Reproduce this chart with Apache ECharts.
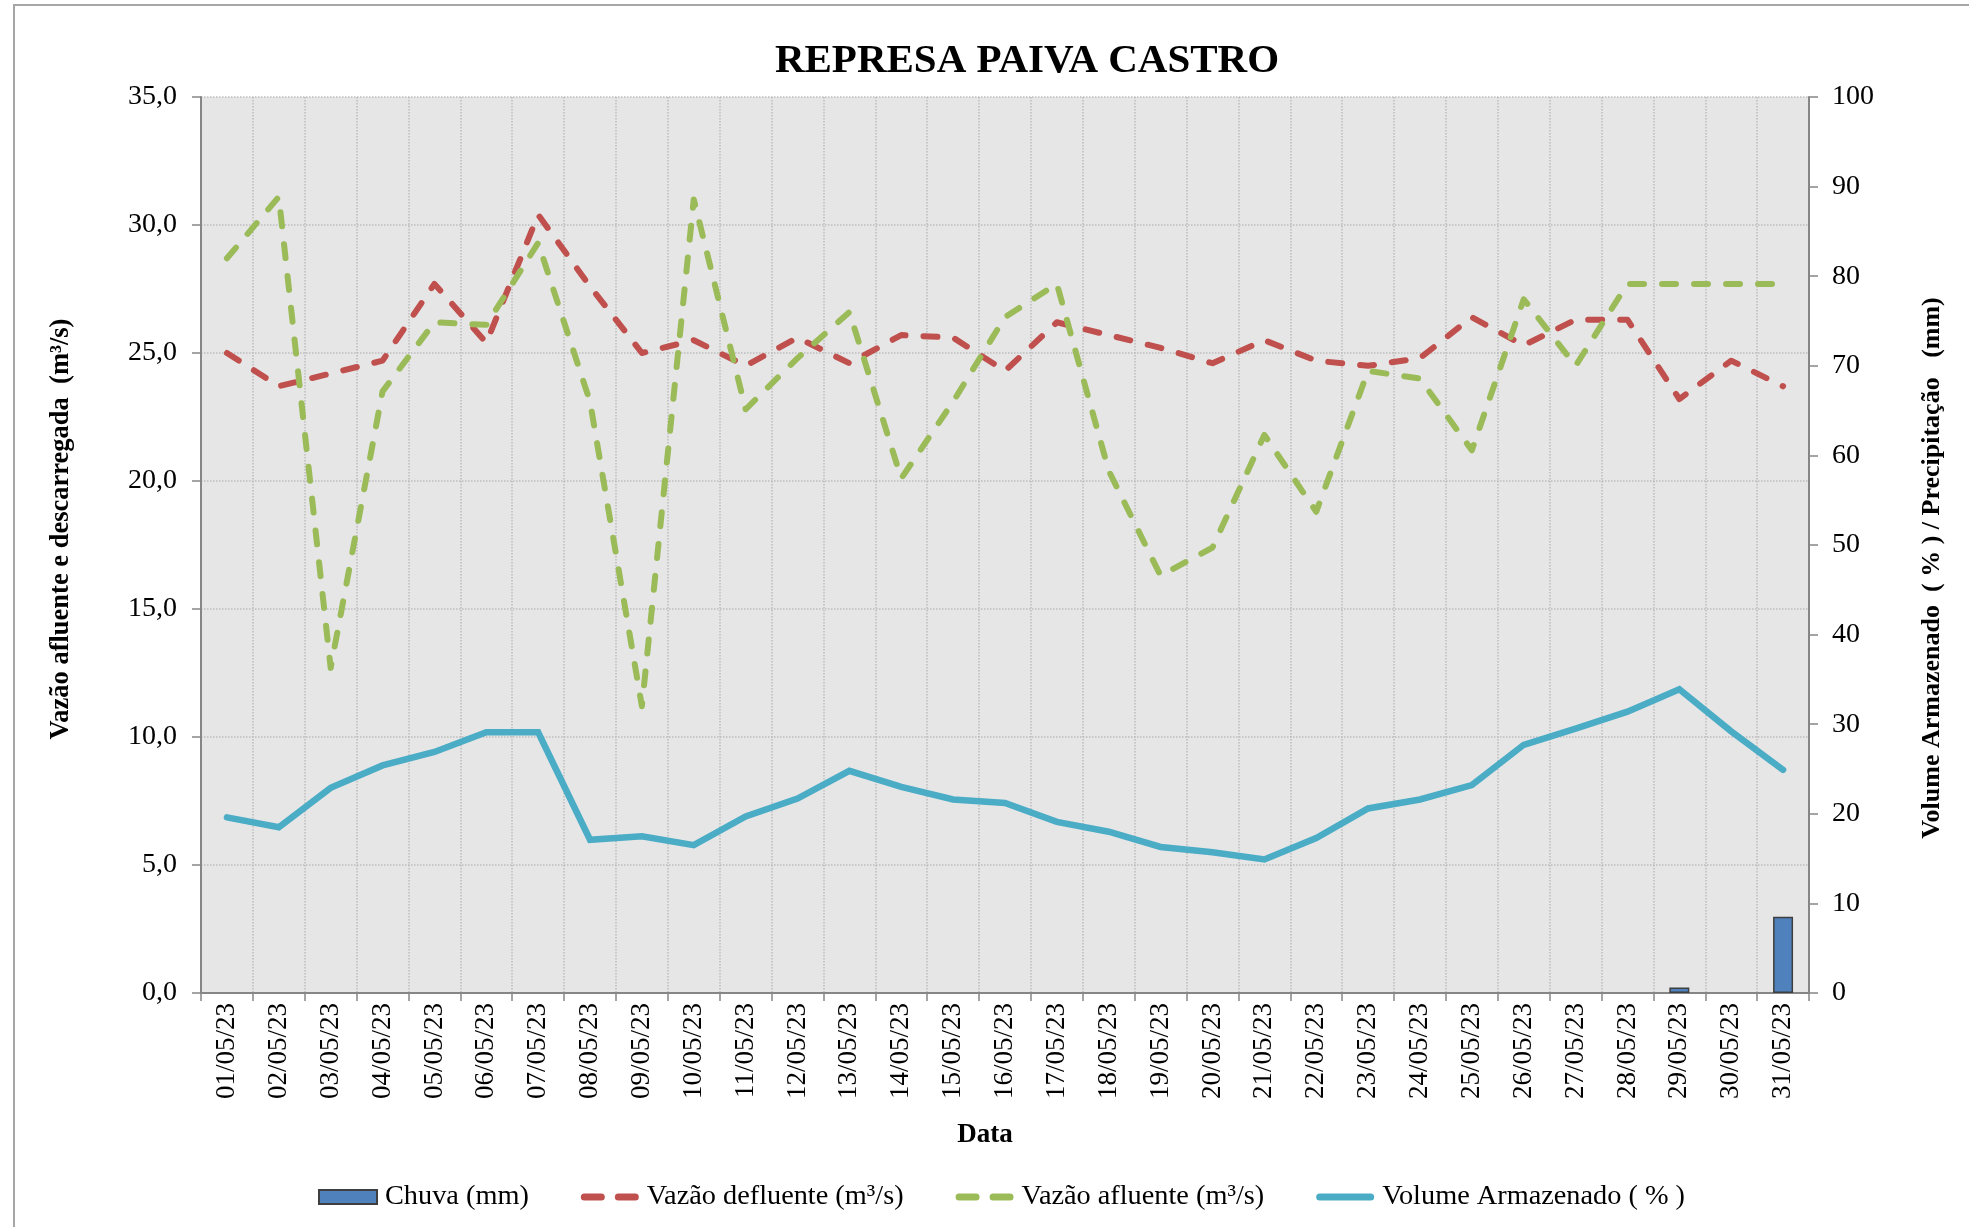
<!DOCTYPE html>
<html>
<head>
<meta charset="utf-8">
<script src="https://cdn.jsdelivr.net/npm/echarts@6/dist/echarts.min.js"></script>
<style>
  html, body { margin: 0; padding: 0; background: #fff; }
  #chart { width: 1969px; height: 1227px; }
</style>
</head>
<body>
<div id="chart"></div>
<script>
// dias do mês (eixo x)
var dias = ["01/05/23", "02/05/23", "03/05/23", "04/05/23", "05/05/23", "06/05/23", "07/05/23", "08/05/23",
  "09/05/23", "10/05/23", "11/05/23", "12/05/23", "13/05/23", "14/05/23", "15/05/23", "16/05/23",
  "17/05/23", "18/05/23", "19/05/23", "20/05/23", "21/05/23", "22/05/23", "23/05/23", "24/05/23",
  "25/05/23", "26/05/23", "27/05/23", "28/05/23", "29/05/23", "30/05/23", "31/05/23"];

// precipitação (mm) - eixo direito
var chuva = [0, 0, 0, 0, 0, 0, 0, 0, 0, 0, 0, 0, 0, 0, 0, 0,
  0, 0, 0, 0, 0, 0, 0, 0, 0, 0, 0, 0, 0.6, 0, 8.5];

// vazão defluente (m³/s)
var defluente = [25.0, 23.7, 24.2, 24.7, 27.7, 25.4, 30.4, 27.6, 25.0, 25.5, 24.5, 25.6, 24.6, 25.7, 25.6, 24.3,
  26.2, 25.7, 25.2, 24.6, 25.5, 24.7, 24.5, 24.8, 26.4, 25.3, 26.3, 26.3, 23.2, 24.7, 23.7];

// vazão afluente (m³/s)
var afluente = [28.7, 31.1, 12.7, 23.5, 26.2, 26.1, 29.3, 23.1, 11.2, 31.0, 22.8, 24.8, 26.6, 20.1, 23.1, 26.4,
  27.7, 20.4, 16.3, 17.4, 21.8, 18.8, 24.3, 24.0, 21.2, 27.1, 24.5, 27.7, 27.7, 27.7, 27.7];

// volume armazenado (%) - eixo direito
var volume = [19.6, 18.5, 22.9, 25.4, 26.9, 29.1, 29.1, 17.1, 17.5, 16.5, 19.7, 21.7, 24.8, 23.0, 21.6, 21.2,
  19.1, 18.0, 16.3, 15.7, 14.9, 17.3, 20.6, 21.6, 23.2, 27.7, 29.5, 31.4, 33.9, 29.2, 24.9];

var fonte = "'Liberation Serif', 'Times New Roman', serif";
var corEixo = "#868686";
var grade = { show: true, lineStyle: { color: "#bdbdbd", type: "dotted", width: 1.5 } };
var tracejado = [14, 18];

// icones da legenda (traço duplo e traço contínuo), caixa 58x14
var iconeTracejado = "path://M0,0L0,0M0,14L0,14M3.5,3.5H20.5A3.5,3.5,0,0,1,20.5,10.5H3.5A3.5,3.5,0,0,1,3.5,3.5Z" +
  "M37.5,3.5H54.5A3.5,3.5,0,0,1,54.5,10.5H37.5A3.5,3.5,0,0,1,37.5,3.5Z";
var iconeContinuo = "path://M0,0L0,0M0,14L0,14M3.5,3.5H54.5A3.5,3.5,0,0,1,54.5,10.5H3.5A3.5,3.5,0,0,1,3.5,3.5Z";

// dias sem chuva ficam sem barra (como no Excel)
var chuvaBarras = chuva.map(function (v) { return v > 0 ? v : "-"; });

var chart = echarts.init(document.getElementById("chart"));

var option = {
  backgroundColor: "#fff",
  animation: false,
  textStyle: { fontFamily: fonte, color: "#000" },
  title: {
    text: "REPRESA PAIVA CASTRO",
    left: 1022,
    textAlign: "center",
    top: 36,
    textStyle: { fontFamily: fonte, fontSize: 41, fontWeight: "bold", color: "#000" }
  },
  graphic: [
    {
      type: "rect",
      shape: { x: 14, y: 5, width: 2100, height: 2100 },
      style: { fill: "none", stroke: "#a6a6a6", lineWidth: 2 },
      silent: true
    }
  ],
  legend: {
    left: 313,
    top: 1178,
    itemWidth: 58,
    itemHeight: 14,
    itemGap: 52,
    textStyle: { fontFamily: fonte, fontSize: 28.3, color: "#000", padding: [0, 0, 0, 3] },
    data: [
      { name: "Chuva (mm)", icon: "rect" },
      { name: "Vazão defluente (m³/s)", icon: iconeTracejado, itemStyle: { borderWidth: 0 } },
      { name: "Vazão afluente (m³/s)", icon: iconeTracejado, itemStyle: { borderWidth: 0 } },
      { name: "Volume Armazenado ( % )", icon: iconeContinuo, itemStyle: { borderWidth: 0 } }
    ]
  },
  grid: {
    left: 201,
    right: 160,
    top: 97,
    bottom: 234,
    show: true,
    backgroundColor: "#e6e6e6",
    borderWidth: 0
  },
  xAxis: {
    type: "category",
    data: dias,
    boundaryGap: true,
    name: "Data",
    nameLocation: "middle",
    nameGap: 129,
    nameTextStyle: { fontFamily: fonte, fontSize: 27, fontWeight: "bold", color: "#000", padding: [0, 40, 0, 0] },
    axisLine: { lineStyle: { color: corEixo, width: 2 } },
    axisTick: { show: true, interval: 0, length: 8, lineStyle: { color: corEixo, width: 1.5 } },
    axisLabel: { interval: 0, rotate: 90, margin: 10, fontFamily: fonte, fontSize: 27, color: "#000" },
    splitLine: { show: true, interval: 0, lineStyle: grade.lineStyle }
  },
  yAxis: [
    {
      type: "value",
      min: 0,
      max: 35,
      interval: 5,
      name: "Vazão afluente e descarregada  (m³/s)",
      nameLocation: "middle",
      nameRotate: 90,
      nameGap: 126,
      nameTextStyle: { fontFamily: fonte, fontSize: 26.5, fontWeight: "bold", color: "#000", padding: [0, 0, 0, 32] },
      axisLine: { show: true, lineStyle: { color: corEixo, width: 2 } },
      axisTick: { show: true, length: 9, lineStyle: { color: corEixo, width: 1.5 } },
      axisLabel: {
        margin: 24,
        fontFamily: fonte,
        fontSize: 28,
        color: "#000",
        formatter: function (v) { return v.toFixed(1).replace(".", ","); }
      },
      splitLine: grade
    },
    {
      type: "value",
      min: 0,
      max: 100,
      interval: 10,
      position: "right",
      name: "Volume Armazenado  ( % ) / Precipitação   (mm)",
      nameLocation: "middle",
      nameRotate: 90,
      nameGap: 110,
      nameTextStyle: { fontFamily: fonte, fontSize: 26, fontWeight: "bold", color: "#000", padding: [0, 46, 0, 0] },
      axisLine: { show: true, lineStyle: { color: corEixo, width: 2 } },
      axisTick: { show: true, length: 9, lineStyle: { color: corEixo, width: 1.5 } },
      axisLabel: { margin: 23, fontFamily: fonte, fontSize: 28, color: "#000" },
      splitLine: { show: false }
    }
  ],
  series: [
    {
      name: "Chuva (mm)",
      type: "bar",
      yAxisIndex: 1,
      data: chuvaBarras,
      barWidth: 20,
      itemStyle: { color: "#4f81bd", borderColor: "#3f3f3f", borderWidth: 1.5 }
    },
    {
      name: "Vazão defluente (m³/s)",
      type: "line",
      data: defluente,
      symbol: "none",
      lineStyle: { color: "#c0504d", width: 6, type: tracejado, cap: "round", join: "round" },
      itemStyle: { color: "#c0504d" }
    },
    {
      name: "Vazão afluente (m³/s)",
      type: "line",
      data: afluente,
      symbol: "none",
      lineStyle: { color: "#9bbb59", width: 6, type: tracejado, cap: "round", join: "round" },
      itemStyle: { color: "#9bbb59" }
    },
    {
      name: "Volume Armazenado ( % )",
      type: "line",
      yAxisIndex: 1,
      data: volume,
      symbol: "none",
      lineStyle: { color: "#4bacc6", width: 6.5, cap: "round", join: "miter" },
      itemStyle: { color: "#4bacc6" }
    }
  ]
};

chart.setOption(option);
</script>
</body>
</html>
